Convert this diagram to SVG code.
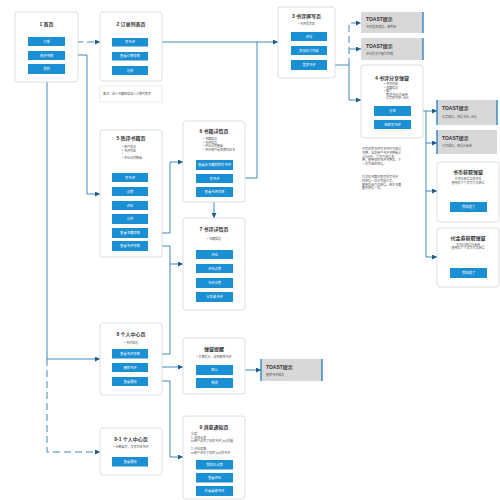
<svg xmlns="http://www.w3.org/2000/svg" width="500" height="500" viewBox="0 0 500 500">
<style>
text{font-family:'Liberation Sans','Noto Sans CJK SC',sans-serif}
.box{fill:#fff;stroke:#d6d6d6;stroke-width:0.8}
.btn{fill:#1b8fd4}
.bt{font-size:3.3px;fill:#fff;text-anchor:middle}
.ti{font-size:5px;font-weight:bold;fill:#333;text-anchor:middle}
.sm{font-size:3px;fill:#555}
.smc{font-size:3px;fill:#555;text-anchor:middle}
.toast{fill:#d8d8d8}
.tedge{stroke:#2b86c5;stroke-width:1.4}
.tt{font-size:5px;font-weight:bold;fill:#333}
.conn{stroke:#2e7db3;stroke-width:0.9;fill:none}
.dash{stroke-dasharray:7 4}
</style>
<defs>
<marker id="ar" markerUnits="userSpaceOnUse" markerWidth="5" markerHeight="5" refX="5" refY="2.5" orient="auto">
<path d="M0,0 L5,2.5 L0,5 z" fill="#1d5c86"/>
</marker>
</defs>
<rect width="500" height="500" fill="#fff"/>

<g id="connectors">
<path class="conn dash" d="M65,42 H100" marker-end="url(#ar)"/>
<path class="conn" d="M148,42 H278" marker-end="url(#ar)"/>
<path class="conn" d="M233,178 H257 V42"/>
<path class="conn" d="M327,65 H349 V100 H361" marker-end="url(#ar)"/>
<path class="conn dash" d="M349,65 V23 H361" marker-end="url(#ar)"/>
<path class="conn dash" d="M349,49 H361" marker-end="url(#ar)"/>
<path class="conn" d="M65,55 H87 V194 H100" marker-end="url(#ar)"/>
<path class="conn" d="M47,74 V359 H100" marker-end="url(#ar)"/>
<path class="conn dash" d="M47,359 V452 H100" marker-end="url(#ar)"/>
<path class="conn" d="M148,233 H170 V162 H183" marker-end="url(#ar)"/>
<path class="conn" d="M148,246 H170 V264 H183" marker-end="url(#ar)"/>
<path class="conn" d="M148,354 H170 V264"/>
<path class="conn" d="M214,197 V218" marker-end="url(#ar)"/>
<path class="conn" d="M148,367 H183" marker-end="url(#ar)"/>
<path class="conn" d="M148,381 H170 V457 H183" marker-end="url(#ar)"/>
<path class="conn" d="M233,370 H261" marker-end="url(#ar)"/>
<path class="conn" d="M411,111 H437" marker-end="url(#ar)"/>
<path class="conn" d="M426,111 V257 H437" marker-end="url(#ar)"/>
<path class="conn" d="M426,143 H437" marker-end="url(#ar)"/>
<path class="conn" d="M426,191 H437" marker-end="url(#ar)"/>
</g>

<g id="n1">
<rect class="box" x="15" y="12" width="63" height="70" rx="3"/>
<text class="ti" x="46.5" y="26">1 首页</text>
<rect class="btn" x="28" y="37" width="37" height="9"/><text class="bt" x="46.5" y="42.8">订单</text>
<rect class="btn" x="28" y="51" width="37" height="9"/><text class="bt" x="46.5" y="56.8">热评书榜</text>
<rect class="btn" x="28" y="64" width="37" height="10"/><text class="bt" x="46.5" y="70.3">我的</text>
</g>

<g id="n2">
<rect class="box" x="100" y="12" width="62" height="69" rx="3"/>
<text class="ti" x="131" y="26">2 订单列表页</text>
<rect class="btn" x="112" y="38" width="36" height="8.5"/><text class="bt" x="130" y="43.4">写书评</text>
<rect class="btn" x="112" y="52" width="36" height="8.5"/><text class="bt" x="130" y="57.4">查看订单详情</text>
<rect class="btn" x="112" y="66" width="36" height="9"/><text class="bt" x="130" y="71.6">分享</text>
</g>

<g id="note2">
<rect x="100" y="86" width="62" height="16" fill="#fff" stroke="#e2e2e2" stroke-width="0.7"/>
<text class="sm" x="103" y="95.2">备注：进入书籍短信进入订单列表页</text>
</g>

<g id="n3">
<rect class="box" x="278" y="7" width="57" height="71" rx="3"/>
<text class="ti" x="306.5" y="18">3 书评撰写页</text>
<text class="smc" x="306.5" y="24.5">• 书评撰写区</text>
<rect class="btn" x="291" y="32" width="36" height="9"/><text class="bt" x="309" y="37.7">评分</text>
<rect class="btn" x="291" y="46" width="36" height="9"/><text class="bt" x="309" y="51.7">添加正文内容</text>
<rect class="btn" x="291" y="60" width="36" height="10"/><text class="bt" x="309" y="66.2">发表书评</text>
</g>

<g id="toast1">
<rect class="toast" x="361" y="12" width="62" height="21"/>
<line class="tedge" x1="423" y1="12" x2="423" y2="33"/>
<text class="tt" x="366" y="21">TOAST提示</text>
<text class="sm" x="366" y="28">书评发表成功，请等待</text>
</g>

<g id="toast2">
<rect class="toast" x="361" y="38" width="62" height="22"/>
<line class="tedge" x1="423" y1="38" x2="423" y2="60"/>
<text class="tt" x="366" y="47.5">TOAST提示</text>
<text class="sm" x="366" y="54.5">评论提交不能为空哦</text>
</g>

<g id="n4">
<rect class="box" x="361" y="65" width="62" height="73" rx="3"/>
<text class="ti" x="392" y="80">4 书评分享弹窗</text>
<text class="sm" x="384" y="85">• 书评内容</text>
<text class="sm" x="384" y="88.6">• 书籍信息</text>
<text class="sm" x="384" y="92.2">• 推广</text>
<text class="sm" x="386" y="95.8">赠送书币/代金券,</text>
<text class="sm" x="386" y="99.4">分享即可获 +N元</text>
<rect class="btn" x="374" y="106" width="37" height="10"/><text class="bt" x="392.5" y="112.2">分享</text>
<rect class="btn" x="374" y="120" width="37" height="9"/><text class="bt" x="392.5" y="125.7">继续写书评</text>
</g>

<g id="note4">
<text class="sm" x="362" y="150">只有在首书评有书评时可获得</text>
<text class="sm" x="362" y="153.8">书费，当前用户书评书费累计</text>
<text class="sm" x="362" y="157.6">&lt;20元时，下可再获得书</text>
<text class="sm" x="362" y="161.4">费。使用领取书评书费后，下</text>
<text class="sm" x="362" y="165.2">一次可继续获得。</text>
<text class="sm" x="362" y="178">再次在书籍详情页撰写书评</text>
<text class="sm" x="362" y="181.8">时获得一次已完成分享，</text>
<text class="sm" x="362" y="185.6">使用后会再次获得。每本书籍</text>
<text class="sm" x="362" y="189.4">最多获得一次。</text>
</g>

<g id="toast3">
<rect class="toast" x="437" y="100" width="60" height="25"/>
<line class="tedge" x1="437" y1="100" x2="437" y2="125"/>
<line class="tedge" x1="497" y1="100" x2="497" y2="125"/>
<text class="tt" x="442" y="110">TOAST提示</text>
<text class="sm" x="442" y="117.5">分享成功，获得书币 +N元</text>
</g>

<g id="toast4">
<rect class="toast" x="437" y="130" width="60" height="24"/>
<line class="tedge" x1="437" y1="130" x2="437" y2="154"/>
<text class="tt" x="442" y="140">TOAST提示</text>
<text class="sm" x="442" y="147">分享成功，获得代金券</text>
</g>

<g id="coin">
<rect class="box" x="437" y="162" width="62" height="60" rx="3"/>
<text class="ti" x="468" y="174">书币获取弹窗</text>
<text class="smc" x="468" y="180">本书已获得奖励书币</text>
<text class="smc" x="468" y="183.6">使用后下下次可再次获得</text>
<rect class="btn" x="450" y="202" width="37" height="10"/><text class="bt" x="468.5" y="208.2">我知道了</text>
</g>

<g id="voucher">
<rect class="box" x="437" y="228" width="62" height="59" rx="3"/>
<text class="ti" x="468" y="240">代金券获取弹窗</text>
<text class="smc" x="468" y="245.5">本书已获得代金券</text>
<text class="smc" x="468" y="249.1">使用后下下次可再次获得</text>
<rect class="btn" x="450" y="268" width="37" height="10"/><text class="bt" x="468.5" y="274.2">我知道了</text>
</g>

<g id="n5">
<rect class="box" x="100" y="130" width="62" height="127" rx="3"/>
<text class="ti" x="131" y="140">5 热评书籍页</text>
<text class="sm" x="122" y="148">• 用户信息</text>
<text class="sm" x="122" y="151.6">• 书评内容</text>
<text class="sm" x="122" y="155.2">•</text>
<text class="sm" x="122" y="158.8">• 评论点赞数据</text>
<rect class="btn" x="112" y="173" width="36" height="9"/><text class="bt" x="130" y="178.7">写书评</text>
<rect class="btn" x="112" y="187" width="36" height="9"/><text class="bt" x="130" y="192.7">点赞</text>
<rect class="btn" x="112" y="201" width="36" height="9"/><text class="bt" x="130" y="206.7">评论</text>
<rect class="btn" x="112" y="214" width="36" height="10"/><text class="bt" x="130" y="220.2">分享</text>
<rect class="btn" x="112" y="228" width="36" height="10"/><text class="bt" x="130" y="234.2">查看书籍详情</text>
<rect class="btn" x="112" y="241" width="36" height="10"/><text class="bt" x="130" y="247.2">查看书评详情</text>
</g>

<g id="n6">
<rect class="box" x="183" y="121" width="62" height="81" rx="3"/>
<text class="ti" x="214" y="133">6 书籍详情页</text>
<text class="sm" x="203" y="140">• 书籍信息</text>
<text class="sm" x="203" y="143.6">• 书评信息</text>
<text class="sm" x="203" y="147.2">• 评论点赞数据</text>
<text class="sm" x="203" y="150.8">• 书评用户是否拥有此书</text>
<rect class="btn" x="196" y="160" width="37" height="10"/><text class="bt" x="214.5" y="166.2">查看此书籍的所有书评</text>
<rect class="btn" x="196" y="174" width="37" height="9"/><text class="bt" x="214.5" y="179.7">写书评</text>
<rect class="btn" x="196" y="187" width="37" height="10"/><text class="bt" x="214.5" y="193.2">查看书评详情</text>
</g>

<g id="n7">
<rect class="box" x="183" y="218" width="62" height="92" rx="3"/>
<text class="ti" x="214" y="231">7 书评详情页</text>
<text class="smc" x="214" y="239.5">• 书籍信息</text>
<rect class="btn" x="196" y="250" width="37" height="9"/><text class="bt" x="214.5" y="255.7">评论</text>
<rect class="btn" x="196" y="264" width="37" height="9"/><text class="bt" x="214.5" y="269.7">评论点赞</text>
<rect class="btn" x="196" y="278" width="37" height="10"/><text class="bt" x="214.5" y="284.2">书评点赞</text>
<rect class="btn" x="196" y="292" width="37" height="10"/><text class="bt" x="214.5" y="298.2">分享该书评</text>
</g>

<g id="n8">
<rect class="box" x="100" y="323" width="62" height="72" rx="3"/>
<text class="ti" x="131" y="336">8 个人中心页</text>
<text class="smc" x="131" y="343.5">• 书评信息</text>
<rect class="btn" x="112" y="349" width="36" height="9.5"/><text class="bt" x="130" y="354.9">查看书评详情</text>
<rect class="btn" x="112" y="363" width="36" height="9"/><text class="bt" x="130" y="368.7">删除书评</text>
<rect class="btn" x="112" y="377" width="36" height="9"/><text class="bt" x="130" y="382.7">查看通知</text>
</g>

<g id="popup">
<rect class="box" x="183" y="338" width="62" height="56" rx="3"/>
<text class="ti" x="214" y="351">弹窗提醒</text>
<text class="smc" x="214" y="358">• 方案提示，是否删除书评</text>
<rect class="btn" x="196" y="365" width="37" height="10"/><text class="bt" x="214.5" y="371.2">确认</text>
<rect class="btn" x="196" y="378" width="37" height="10"/><text class="bt" x="214.5" y="384.2">取消</text>
</g>

<g id="toast5">
<rect class="toast" x="261" y="359" width="61" height="22"/>
<line class="tedge" x1="261" y1="359" x2="261" y2="381"/>
<line class="tedge" x1="322" y1="359" x2="322" y2="381"/>
<text class="tt" x="266" y="368.5">TOAST提示</text>
<text class="sm" x="266" y="375.5">删除书评成功</text>
</g>

<g id="n81">
<rect class="box" x="100" y="428" width="62" height="47" rx="3"/>
<text class="ti" x="131" y="441">8-1 个人中心页</text>
<text class="smc" x="131" y="448">• 无数据页，仅有对应书评</text>
<rect class="btn" x="112" y="457" width="36" height="9.5"/><text class="bt" x="130" y="462.9">查看通知</text>
</g>

<g id="n9">
<rect class="box" x="183" y="416" width="62" height="83" rx="3"/>
<text class="ti" x="214" y="429">9 消息通知页</text>
<text class="sm" x="191" y="435">分类：</text>
<text class="sm" x="191" y="438.6">1. 收到点赞</text>
<text class="sm" x="191" y="442.2">xx用户点赞了你的书评 [xx] 提醒</text>
<text class="sm" x="191" y="450">2. 评论回复</text>
<text class="sm" x="191" y="453.6">xx用户评论了你的 [xx] 的书评</text>
<rect class="btn" x="196" y="460" width="37" height="9.5"/><text class="bt" x="214.5" y="465.9">我的已点赞</text>
<rect class="btn" x="196" y="473" width="37" height="9.5"/><text class="bt" x="214.5" y="478.9">查看评论</text>
<rect class="btn" x="196" y="486" width="37" height="10"/><text class="bt" x="214.5" y="492.2">去看看原书评</text>
</g>
</svg>
